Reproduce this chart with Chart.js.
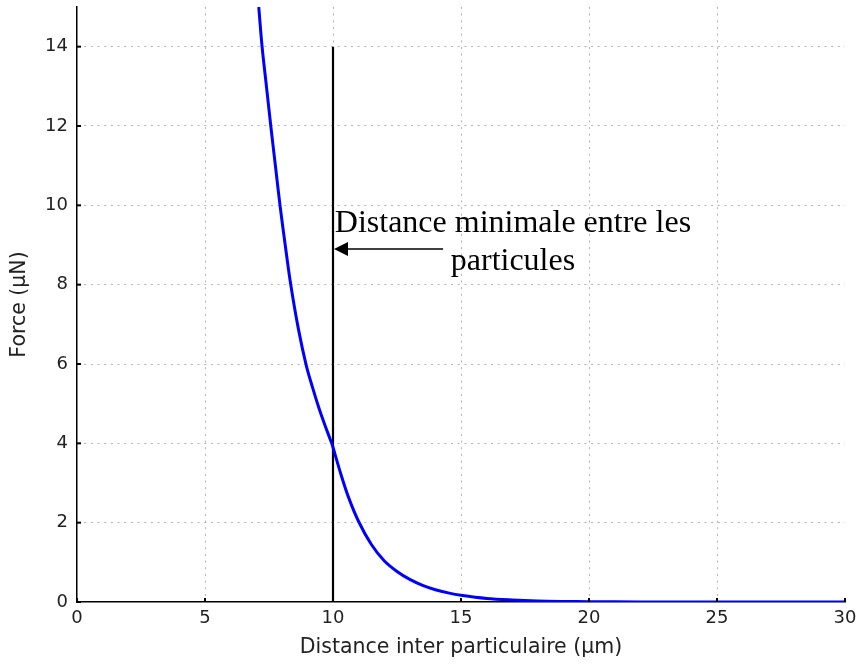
<!DOCTYPE html>
<html>
<head>
<meta charset="utf-8">
<script src="https://cdn.jsdelivr.net/npm/chart.js@4/dist/chart.umd.min.js"></script>
<style>
  html, body { margin: 0; padding: 0; background: #fff; }
</style>
</head>
<body>
<canvas id="c" width="861" height="664"></canvas>
<script>
// ── Data ───────────────────────────────────────────────────────────────────────
const distance = [7.1, 7.23, 7.4, 7.57, 7.75, 7.93, 8.14, 8.35, 8.65, 8.95, 9.2, 9.45, 9.7, 9.95,
                  10.0, 10.3, 10.6, 11.0, 11.5, 12, 12.5, 13, 13.5, 14, 14.5, 15, 16, 17, 18, 19,
                  20, 22, 25, 30];
const force    = [15, 14, 13, 12, 11, 10, 8.97, 8, 6.88, 5.98, 5.41, 4.89, 4.43, 4.0,
                  3.9, 3.24, 2.65, 2.03, 1.45, 1.04, 0.77, 0.57, 0.42, 0.31, 0.23, 0.17, 0.09, 0.05, 0.026, 0.014,
                  0.007, 0.002, 0.0005, 0];
const xTicks = [0, 5, 10, 15, 20, 25, 30];
const yTicks = [0, 2, 4, 6, 8, 10, 12, 14];

const minDistance = 10;       // vertical marker
const minDistanceTop = 14;
const noteLines  = ['Distance minimale entre les', 'particules'];
const noteX      = 17.03;
const noteY      = [9.34, 8.38];
const arrowFrom  = { x: 14.3, y: 8.9 };
const arrowTo    = { x: 10.0, y: 8.9 };

const TICK_FONT  = { family: '"DejaVu Sans"', size: 18 };
const TITLE_FONT = { family: '"DejaVu Sans"', size: 20.5 };
const gridColor  = ctx => (ctx.tick && (ctx.tick.value === 0 || ctx.tick.value === 30)) ? 'rgba(0,0,0,0)' : '#b3b3b3';

// ── Inner tick marks, arrow and note ───────────────────────────────────────────
const annotate = {
  id: 'annotate',
  afterDatasetsDraw(chart) {
    const { ctx, scales: { x, y } } = chart;
    ctx.save();
    ctx.strokeStyle = '#000';
    ctx.lineWidth = 2;
    for (const v of xTicks) {
      const px = x.getPixelForValue(v);
      ctx.beginPath(); ctx.moveTo(px, y.bottom); ctx.lineTo(px, y.bottom - 4); ctx.stroke();
    }
    for (const v of yTicks) {
      const py = y.getPixelForValue(v);
      ctx.beginPath(); ctx.moveTo(x.left, py); ctx.lineTo(x.left + 4, py); ctx.stroke();
    }

    // arrow pointing at the marker line
    const ax0 = x.getPixelForValue(arrowFrom.x), ay0 = y.getPixelForValue(arrowFrom.y);
    const ax1 = x.getPixelForValue(arrowTo.x) + 1, ay1 = y.getPixelForValue(arrowTo.y);
    ctx.lineWidth = 1.5;
    ctx.beginPath(); ctx.moveTo(ax0, ay0); ctx.lineTo(ax1 + 12, ay1); ctx.stroke();
    ctx.fillStyle = '#000';
    ctx.beginPath();
    ctx.moveTo(ax1, ay1);
    ctx.lineTo(ax1 + 14, ay1 - 7);
    ctx.lineTo(ax1 + 14, ay1 + 7);
    ctx.closePath();
    ctx.fill();

    ctx.font = '32px "Liberation Serif"';
    ctx.textAlign = 'center';
    ctx.textBaseline = 'alphabetic';
    noteLines.forEach((t, i) => ctx.fillText(t, x.getPixelForValue(noteX), y.getPixelForValue(noteY[i])));
    ctx.restore();
  }
};

new Chart(document.getElementById('c').getContext('2d'), {
  type: 'line',
  data: {
    datasets: [{
      data: distance.map((d, i) => ({ x: d, y: force[i] })),
      borderColor: '#0000ff',
      borderWidth: 3,
      pointRadius: 0,
      tension: 0.35,
      fill: false,
    }, {
      data: [{ x: minDistance, y: 0 }, { x: minDistance, y: minDistanceTop }],
      borderColor: '#000',
      borderWidth: 2.2,
      pointRadius: 0,
      fill: false,
    }]
  },
  options: {
    responsive: false,
    animation: false,
    layout: { padding: { top: 7, right: 16, left: 0, bottom: 0 } },
    plugins: { legend: { display: false }, tooltip: { enabled: false } },
    scales: {
      x: {
        type: 'linear', min: 0, max: 30,
        afterBuildTicks: s => { s.ticks = xTicks.map(v => ({ value: v })); },
        afterFit: s => { s.height = 62; s.paddingLeft = 0; s.paddingRight = 0; },
        grid: { color: gridColor, lineWidth: 1, drawTicks: false },
        border: { display: true, color: '#000', width: 1.5, dash: [2, 4.67] },
        ticks: { color: '#222', font: TICK_FONT, padding: 6, maxRotation: 0 },
        title: { display: true, text: 'Distance inter particulaire (μm)', color: '#222', font: TITLE_FONT, padding: { top: 4, bottom: 4 } }
      },
      y: {
        type: 'linear', min: 0, max: 15,
        afterBuildTicks: s => { s.ticks = yTicks.map(v => ({ value: v })); },
        afterFit: s => { s.width = 77; s.paddingTop = 0; s.paddingBottom = 0; },
        grid: { color: gridColor, lineWidth: 1, drawTicks: false },
        border: { display: true, color: '#000', width: 1.5, dash: [2, 4.67] },
        ticks: { color: '#222', font: TICK_FONT, padding: 9 },
        title: { display: true, text: 'Force (μN)', color: '#222', font: TITLE_FONT, padding: { top: 7, bottom: 0 } }
      }
    }
  },
  plugins: [annotate]
});
</script>
</body>
</html>
